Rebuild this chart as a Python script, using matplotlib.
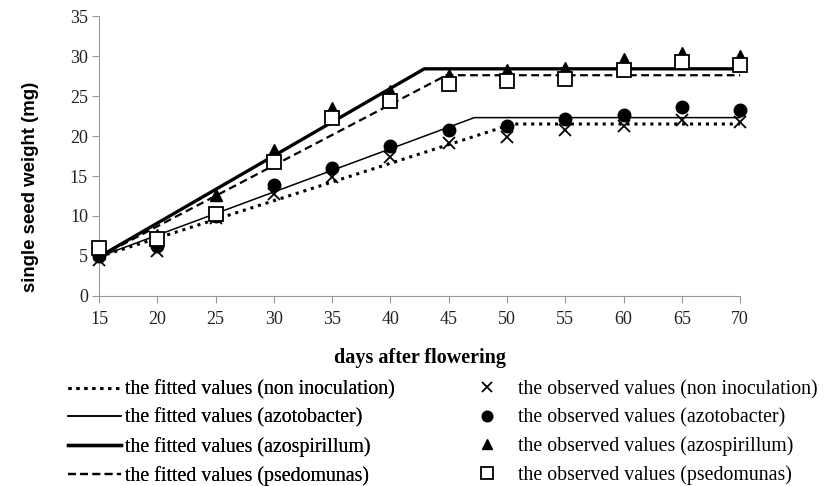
import matplotlib.pyplot as plt
from matplotlib.lines import Line2D

days = [15, 20, 25, 30, 35, 40, 45, 50, 55, 60, 65, 70]

obs_non = [4.5, 5.6, 9.8, 12.8, 14.9, 17.4, 19.1, 19.9, 20.8, 21.3, 22.0, 21.8]
obs_azoto = [5.0, 6.2, 10.0, 13.9, 16.0, 18.7, 20.8, 21.2, 22.1, 22.6, 23.6, 23.3]
obs_azospi = [5.4, 7.6, 12.6, 18.2, 23.5, 25.6, 27.6, 28.2, 28.5, 29.6, 30.4, 30.0]
obs_pseudo = [6.0, 7.1, 10.3, 16.7, 22.3, 24.4, 26.5, 26.9, 27.1, 28.3, 29.2, 28.9]

# fitted: linear rise from day 15 to a break point, then a plateau
fit_start = [4.9, 4.9, 4.9, 4.9]
fit_break = [50.5, 47.2, 42.9, 44.8]
fit_plateau = [21.5, 22.3, 28.4, 27.6]

fit_labels = [
    "the fitted values (non inoculation)",
    "the fitted values (azotobacter)",
    "the fitted values (azospirillum)",
    "the fitted values (psedomunas)",
]
obs_labels = [
    "the observed values (non inoculation)",
    "the observed values (azotobacter)",
    "the observed values (azospirillum)",
    "the observed values (psedomunas)",
]

SERIF = "Liberation Serif"

fig = plt.figure(figsize=(8.26, 4.86), dpi=100)
ax = fig.add_axes([0.12, 0.391, 0.776, 0.576])

line_styles = [
    dict(linestyle=(0, (1, 1.6)), linewidth=2.2),
    dict(linestyle="-", linewidth=1.1),
    dict(linestyle="-", linewidth=2.4),
    dict(linestyle=(0, (3.5, 2)), linewidth=1.6),
]
for i, style in enumerate(line_styles):
    xs = [days[0], fit_break[i], days[-1]]
    ys = [fit_start[i], fit_plateau[i], fit_plateau[i]]
    ax.plot(xs, ys, color="black", zorder=2, clip_on=False, **style)

marker_styles = [
    dict(marker="x", markersize=8, markeredgewidth=1.3, color="black"),
    dict(marker="o", markersize=9, color="black"),
    dict(marker="^", markersize=8, color="black"),
    dict(marker="s", markersize=9.5, markerfacecolor="white",
         markeredgecolor="black", markeredgewidth=1.3),
]
for vals, style in zip([obs_non, obs_azoto, obs_azospi, obs_pseudo], marker_styles):
    ax.plot(days, vals, linestyle="none", zorder=3, clip_on=False, **style)

ax.set_xlim(15, 70)
ax.set_ylim(0, 35)
ax.set_xticks(days)
ax.set_yticks(range(0, 36, 5))
for side in ["top", "right"]:
    ax.spines[side].set_visible(False)
for side in ["left", "bottom"]:
    ax.spines[side].set_color("#999999")
ax.tick_params(colors="#999999", length=5, direction="out", labelcolor="#222222",
               labelsize=13)
ax.tick_params(axis="x", pad=6)
ax.tick_params(axis="y", pad=3)
for lbl in ax.get_xticklabels() + ax.get_yticklabels():
    lbl.set_family(SERIF)

ax.set_ylabel("single seed weight (mg)", fontsize=13.4, fontweight="bold",
              family="Liberation Sans")
ax.yaxis.set_label_coords(-0.094, 0.39)
ax.set_xlabel("days after flowering", fontsize=14.5, fontweight="bold", family=SERIF,
              labelpad=14)

fit_handles = [Line2D([], [], color="black", **s) for s in line_styles]
obs_handles = [Line2D([], [], linestyle="none", **s) for s in marker_styles]
for h in obs_handles:
    h.set_markersize(h.get_markersize() * 0.85)

legend_font = {"family": SERIF, "size": 14.3}
leg1 = fig.legend(fit_handles, fit_labels, loc="upper left",
                  bbox_to_anchor=(0.082, 0.218), frameon=False,
                  prop=legend_font, handlelength=2.7,
                  handletextpad=0.2, labelspacing=0.45, borderaxespad=0,
                  borderpad=0)
fig.add_artist(leg1)
fig.legend(obs_handles, obs_labels, loc="upper left",
           bbox_to_anchor=(0.5775, 0.218), frameon=False,
           prop=legend_font, handlelength=1.0,
           handletextpad=1.05, labelspacing=0.45, borderaxespad=0,
           borderpad=0)

fig.savefig("out.png", dpi=100)
